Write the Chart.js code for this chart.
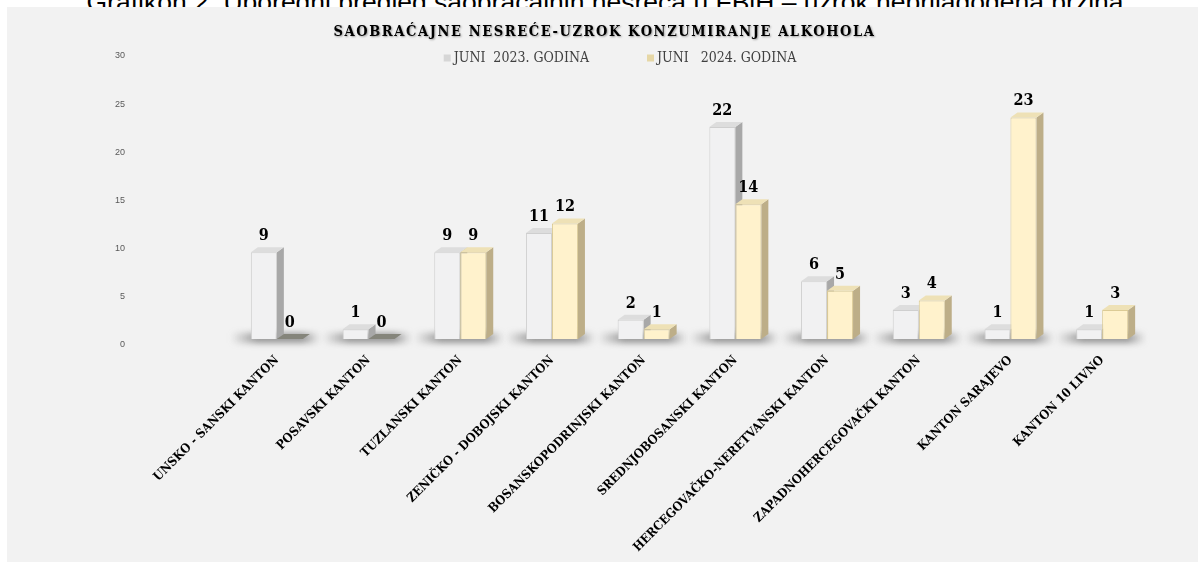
<!DOCTYPE html>
<html>
<head>
<meta charset="utf-8">
<script src="https://cdn.jsdelivr.net/npm/chart.js@4.4.1/dist/chart.umd.min.js"></script>
<style>
  body { margin: 0; background: #fff; width: 1198px; height: 562px; overflow: hidden; position: relative; }
  #caption { position: absolute; left: 6px; width: 1198px; top: -13px; text-align: center; white-space: nowrap;
             font: 26.5px/30px 'Liberation Sans', Arial, sans-serif; color: #000; }
  #box { position: absolute; left: 7px; top: 7px; width: 1191px; height: 555px; background: #f2f2f2; }
</style>
</head>
<body>
<div id="caption">Grafikon 2. Uporedni pregled saobraćajnih nesreća u FBiH – uzrok neprilagođena brzina</div>
<div id="box"><canvas id="chart"></canvas></div>
<script>
// chart data
const kantoni = [
  'UNSKO - SANSKI KANTON', 'POSAVSKI KANTON', 'TUZLANSKI KANTON', 'ZENIČKO - DOBOJSKI KANTON',
  'BOSANSKOPODRINJSKI KANTON', 'SREDNJOBOSANSKI KANTON', 'HERCEGOVAČKO-NERETVANSKI KANTON',
  'ZAPADNOHERCEGOVAČKI KANTON', 'KANTON SARAJEVO', 'KANTON 10 LIVNO'
];
const juni2023 = [9, 1, 9, 11, 2, 22, 6, 3, 1, 1];
const juni2024 = [0, 0, 9, 12, 1, 14, 5, 4, 23, 3];
const seriesNames = ['JUNI  2023. GODINA', 'JUNI   2024. GODINA'];
const chartTitle = 'SAOBRAĆAJNE NESREĆE-UZROK KONZUMIRANJE ALKOHOLA';

const serif = '"DejaVu Serif Condensed", "DejaVu Serif", serif';
const depth = { dx: 7, dy: 5 };
const frontColors = ['#f1f1f2', '#fff2cc'];
const edgeColors = ['#cfcfcf', '#dccb95'];
const sideColors = ['#a8a8a8', '#bdae88'];
const topColors = ['#dddddd', '#eee1b6'];
const markerColors = ['#d6d6d6', '#e6d7a6'];

// floor shadow under each group
const floorShadow = {
  id: 'floorShadow',
  beforeDatasetsDraw(chart) {
    const ctx = chart.ctx, x = chart.scales.x, y = chart.scales.y;
    const base = y.getPixelForValue(0);
    const step = x.width / kantoni.length;
    ctx.save();
    ctx.filter = 'blur(3px)';
    kantoni.forEach((k, i) => {
      const cx = x.getPixelForValue(i);
      const l = cx - step * 0.5, r = cx + step * 0.47;
      const g = ctx.createLinearGradient(l, 0, r, 0);
      g.addColorStop(0, 'rgba(100,100,100,0)');
      g.addColorStop(0.3, 'rgba(100,100,100,0.65)');
      g.addColorStop(0.8, 'rgba(100,100,100,0.65)');
      g.addColorStop(1, 'rgba(100,100,100,0)');
      ctx.fillStyle = g;
      ctx.fillRect(l, base - 6, r - l, 10);
    });
    ctx.restore();
  }
};

// side and top faces so the bars look like the 3D original
const box3d = {
  id: 'box3d',
  beforeDatasetsDraw(chart) {
    const ctx = chart.ctx;
    const { dx, dy } = depth;
    ctx.save();
    chart.data.datasets.forEach((ds, di) => {
      chart.getDatasetMeta(di).data.forEach((bar, i) => {
        const l = bar.x - bar.width / 2, r = bar.x + bar.width / 2, t = bar.y, b = bar.base;
        if (ds.data[i] === 0) {
          ctx.fillStyle = '#85857b';
          ctx.beginPath();
          ctx.moveTo(l, b); ctx.lineTo(l + dx, b - dy); ctx.lineTo(r + dx, b - dy); ctx.lineTo(r, b);
          ctx.fill();
          return;
        }
        ctx.fillStyle = sideColors[di];
        ctx.beginPath();
        ctx.moveTo(r, t); ctx.lineTo(r + dx, t - dy); ctx.lineTo(r + dx, b - dy); ctx.lineTo(r, b);
        ctx.fill();
        ctx.fillStyle = topColors[di];
        ctx.beginPath();
        ctx.moveTo(l, t); ctx.lineTo(l + dx, t - dy); ctx.lineTo(r + dx, t - dy); ctx.lineTo(r, t);
        ctx.fill();
      });
    });
    ctx.restore();
  }
};

const valueLabels = {
  id: 'valueLabels',
  afterDatasetsDraw(chart) {
    const ctx = chart.ctx;
    ctx.save();
    ctx.font = 'bold 16px ' + serif;
    ctx.fillStyle = '#000';
    ctx.textAlign = 'center';
    ctx.textBaseline = 'alphabetic';
    chart.data.datasets.forEach((ds, di) => {
      chart.getDatasetMeta(di).data.forEach((bar, i) => {
        ctx.fillText(String(ds.data[i]), bar.x, bar.y - depth.dy - 7);
      });
    });
    ctx.restore();
  }
};

// title and legend band at the top
const header = {
  id: 'header',
  afterDraw(chart) {
    const ctx = chart.ctx;
    ctx.save();
    ctx.font = 'bold 14.5px ' + serif;
    ctx.letterSpacing = '1.6px';
    ctx.fillStyle = '#000';
    ctx.textAlign = 'center';
    ctx.textBaseline = 'middle';
    ctx.shadowColor = 'rgba(0,0,0,0.35)';
    ctx.shadowOffsetX = 1;
    ctx.shadowOffsetY = 1;
    ctx.shadowBlur = 2;
    ctx.fillText(chartTitle, chart.width / 2 + 2, 25);
    ctx.restore();

    ctx.save();
    ctx.font = '14px ' + serif;
    ctx.textBaseline = 'middle';
    ctx.textAlign = 'left';
    const box = 7, gap = 3, between = 58, cy = 50;
    const widths = seriesNames.map(s => box + gap + ctx.measureText(s).width);
    const total = widths[0] + between + widths[1];
    let x = 613 - total / 2;
    seriesNames.forEach((s, i) => {
      ctx.fillStyle = markerColors[i];
      ctx.fillRect(x, cy - box / 2 + 1, box, box);
      ctx.fillStyle = '#404040';
      ctx.fillText(s, x + box + gap, cy + 1);
      x += widths[i] + between;
    });
    ctx.restore();
  }
};

new Chart(document.getElementById('chart'), {
  type: 'bar',
  data: {
    labels: kantoni,
    datasets: [
      { label: seriesNames[0], data: juni2023, backgroundColor: frontColors[0], borderColor: edgeColors[0], borderWidth: 1,
        categoryPercentage: 0.567, barPercentage: 1 },
      { label: seriesNames[1], data: juni2024, backgroundColor: frontColors[1], borderColor: edgeColors[1], borderWidth: 1,
        categoryPercentage: 0.567, barPercentage: 1 }
    ]
  },
  options: {
    responsive: true,
    maintainAspectRatio: false,
    animation: false,
    devicePixelRatio: 1,
    layout: { padding: { top: 43, right: 50, left: 0, bottom: 0 } },
    plugins: {
      legend: { display: false },
      tooltip: { enabled: false }
    },
    scales: {
      x: {
        grid: { display: false, drawTicks: false },
        border: { display: false },
        ticks: { autoSkip: false, minRotation: 45, maxRotation: 45, padding: 14, color: '#000',
                 font: { family: serif, size: 12.5, weight: 'bold' } },
        afterFit(s) { s.height = 223; }
      },
      y: {
        min: 0,
        max: 30,
        grid: { display: false, drawTicks: false },
        border: { display: false },
        ticks: { stepSize: 5, padding: 106, labelOffset: 6, color: '#595959',
                 font: { family: '"Liberation Sans", sans-serif', size: 9 } },
        afterFit(s) {
          s.width = 224;
          s.paddingTop = 5;
          s.paddingBottom = 5;
        }
      }
    }
  },
  plugins: [floorShadow, box3d, valueLabels, header]
});
</script>
</body>
</html>
